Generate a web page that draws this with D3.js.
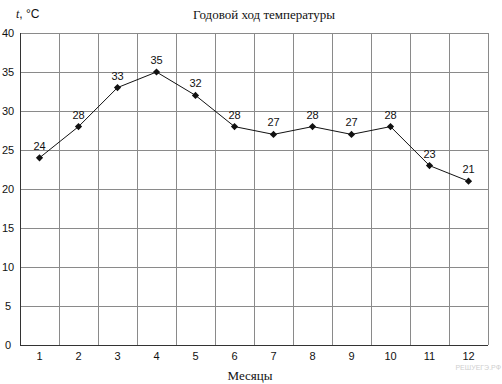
<!DOCTYPE html>
<html><head><meta charset="utf-8">
<script src="https://cdn.jsdelivr.net/npm/d3@7"></script>
<style>body{margin:0;background:#fff}</style>
</head><body>
<svg id="c" width="502" height="384"></svg>
<script>
const months = [1,2,3,4,5,6,7,8,9,10,11,12];
const temps = [24,28,33,35,32,28,27,28,27,28,23,21];
const yTicks = [0,5,10,15,20,25,30,35,40];
const title = "Годовой ход температуры";
const xTitle = "Месяцы";

const svg = d3.select("#c");
const L = 20, R = 488, T = 33, B = 345;
const x = d3.scaleBand().domain(months).range([L, R]).padding(0);
const y = d3.scaleLinear().domain([0, 40]).range([B, T]);

// grid
const g = svg.append("g");
g.selectAll("line.h").data(yTicks).join("line")
  .attr("x1", L).attr("x2", R).attr("y1", d => y(d)).attr("y2", d => y(d))
  .attr("stroke", "#8a8a8a").attr("stroke-width", 1).attr("shape-rendering","crispEdges");
const vlines = months.map(m => x(m)).concat([R]);
g.selectAll("line.v").data(vlines).join("line")
  .attr("x1", d => d).attr("x2", d => d).attr("y1", T).attr("y2", B)
  .attr("stroke", "#8a8a8a").attr("stroke-width", 1).attr("shape-rendering","crispEdges");
// axes
svg.append("line").attr("x1", L).attr("x2", R).attr("y1", B).attr("y2", B).attr("stroke","#333").attr("shape-rendering","crispEdges");
svg.append("line").attr("x1", L).attr("x2", L).attr("y1", T).attr("y2", B).attr("stroke","#333").attr("shape-rendering","crispEdges");

const sans = "Liberation Sans, Arial, sans-serif";
// y tick labels
svg.selectAll("text.yt").data(yTicks).join("text")
  .attr("x", 8).attr("y", d => y(d) + 4).attr("text-anchor", "middle")
  .attr("font-family", sans).attr("font-size", 11).attr("fill","#111")
  .text(d => d);
// x tick labels
svg.selectAll("text.xt").data(months).join("text")
  .attr("x", d => x(d) + x.bandwidth()/2).attr("y", 360).attr("text-anchor", "middle")
  .attr("font-family", sans).attr("font-size", 11).attr("fill","#111")
  .text(d => d);

// line
const cx = d => x(d) + x.bandwidth()/2;
const line = d3.line().x((d,i) => cx(months[i])).y(d => y(d));
svg.append("path").datum(temps).attr("d", line).attr("fill","none").attr("stroke","#111").attr("stroke-width",1);
svg.selectAll("path.pt").data(temps).join("path")
  .attr("d", d3.symbol(d3.symbolSquare, 26))
  .attr("transform", (d,i) => `translate(${cx(months[i])},${y(d)}) rotate(45)`)
  .attr("fill", "#111");
svg.selectAll("text.lbl").data(temps).join("text")
  .attr("x", (d,i) => cx(months[i])).attr("y", d => y(d) - 8).attr("text-anchor","middle")
  .attr("font-family", sans).attr("font-size", 11).attr("fill","#111")
  .text(d => d);

// titles
svg.append("text").attr("x", 264).attr("y", 19).attr("text-anchor","middle")
  .attr("font-family","Liberation Serif, Times New Roman, serif").attr("font-size", 13).attr("fill","#111").text(title);
svg.append("text").attr("x", 250).attr("y", 380).attr("text-anchor","middle")
  .attr("font-family","Liberation Serif, Times New Roman, serif").attr("font-size", 13).attr("fill","#111").text(xTitle);
const yl = svg.append("text").attr("x", 16).attr("y", 18)
  .attr("font-family", sans).attr("font-size", 12).attr("fill","#111");
yl.append("tspan").attr("font-style","italic").attr("font-family","Liberation Serif, serif").text("t");
yl.append("tspan").text(", °C");

// watermark
svg.append("text").attr("x", 501).attr("y", 370).attr("text-anchor","end")
  .attr("font-family", sans).attr("font-size", 7).attr("fill","#cfcfcf").text("РЕШУЕГЭ.РФ");
</script>
</body></html>
